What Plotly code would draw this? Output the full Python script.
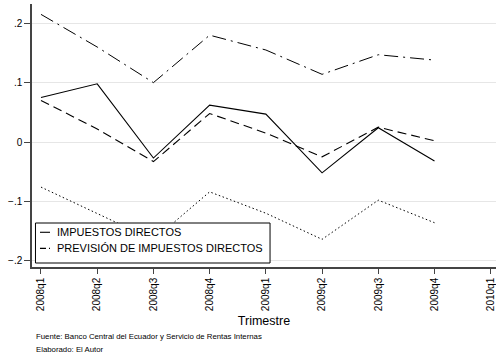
import plotly.graph_objects as go

quarters = ["2008q1", "2008q2", "2008q3", "2008q4", "2009q1", "2009q2", "2009q3", "2009q4"]
tick_labels = quarters + ["2010q1"]

impuestos = [0.075, 0.098, -0.027, 0.062, 0.047, -0.052, 0.024, -0.032]
prevision = [0.070, 0.022, -0.033, 0.048, 0.015, -0.025, 0.025, 0.002]
banda_sup = [0.215, 0.160, 0.100, 0.180, 0.155, 0.114, 0.147, 0.138]
banda_inf = [-0.076, -0.121, -0.165, -0.084, -0.120, -0.164, -0.098, -0.136]

y_ticks = [-0.2, -0.1, 0, 0.1, 0.2]
y_tick_text = ["\u2212.2", "\u2212.1", "0", ".1", ".2"]

legend_labels = ["IMPUESTOS DIRECTOS", "PREVISIÓN DE IMPUESTOS DIRECTOS"]

fig = go.Figure()
fig.add_trace(go.Scatter(x=quarters, y=banda_sup, mode="lines", showlegend=False,
                         line=dict(color="black", width=1, dash="14px,5px,2px,5px")))
fig.add_trace(go.Scatter(x=quarters, y=banda_inf, mode="lines", showlegend=False,
                         line=dict(color="black", width=1, dash="1.5px,2.5px")))
fig.add_trace(go.Scatter(x=quarters, y=impuestos, mode="lines", showlegend=False,
                         name=legend_labels[0], line=dict(color="black", width=1.1)))
fig.add_trace(go.Scatter(x=quarters, y=prevision, mode="lines", showlegend=False,
                         name=legend_labels[1],
                         line=dict(color="black", width=1.1, dash="9px,5px")))

# legend box drawn by hand (Stata-style, tighter than plotly's own legend)
legend_y = [0.132, 0.071]
shapes = [dict(type="rect", xref="paper", yref="paper", x0=0.0075, x1=0.513,
               y0=0.0152, y1=0.1673, fillcolor="white",
               line=dict(color="black", width=1), layer="above")]
shapes.append(dict(type="line", xref="paper", yref="paper", x0=0.0172, x1=0.0388,
                   y0=legend_y[0], y1=legend_y[0], line=dict(color="black", width=1.1),
                   layer="above"))
shapes.append(dict(type="line", xref="paper", yref="paper", x0=0.0172, x1=0.0388,
                   y0=legend_y[1], y1=legend_y[1],
                   line=dict(color="black", width=1.1, dash="6px,3px,2px,3px"),
                   layer="above"))

annotations = [
    dict(text=lbl, xref="paper", yref="paper", x=0.0496, y=yy, xanchor="left",
         yanchor="middle", showarrow=False, font=dict(size=11))
    for lbl, yy in zip(legend_labels, legend_y)
]
annotations += [
    dict(text="Fuente: Banco Central del Ecuador y Servicio de Rentas Internas",
         xref="paper", yref="paper", x=0.005, y=-0.2655, xanchor="left",
         yanchor="middle", showarrow=False, font=dict(size=7.8)),
    dict(text="Elaborado: El Autor",
         xref="paper", yref="paper", x=0.005, y=-0.3125, xanchor="left",
         yanchor="middle", showarrow=False, font=dict(size=7.8)),
]

fig.update_layout(
    width=496, height=356,
    margin=dict(l=32, r=0, t=4, b=89, autoexpand=False),
    paper_bgcolor="white", plot_bgcolor="white",
    font=dict(family="Liberation Sans, Arial, sans-serif", color="black", size=10),
    showlegend=False,
    shapes=shapes,
    annotations=annotations,
)
fig.update_xaxes(
    type="category", categoryorder="array", categoryarray=tick_labels,
    range=[-0.16, 8.094], tickangle=-90, ticks="outside", ticklen=5,
    tickcolor="#444", showline=True, linecolor="#444", linewidth=1.5,
    showgrid=False, zeroline=False, tickfont=dict(size=10), automargin=False,
    title=dict(text="Trimestre", font=dict(size=12.5), standoff=6),
)
fig.update_yaxes(
    range=[-0.2106, 0.2325], tickvals=y_ticks, ticktext=y_tick_text,
    ticks="outside", ticklen=6, tickcolor="#444", showline=True,
    linecolor="#444", linewidth=1.5, showgrid=True, gridcolor="#e6e6e6",
    gridwidth=1, zeroline=False, tickfont=dict(size=10), automargin=False,
)

fig.write_html("out.html", config={"displayModeBar": False},
               post_script="document.body.style.margin='0px';")
